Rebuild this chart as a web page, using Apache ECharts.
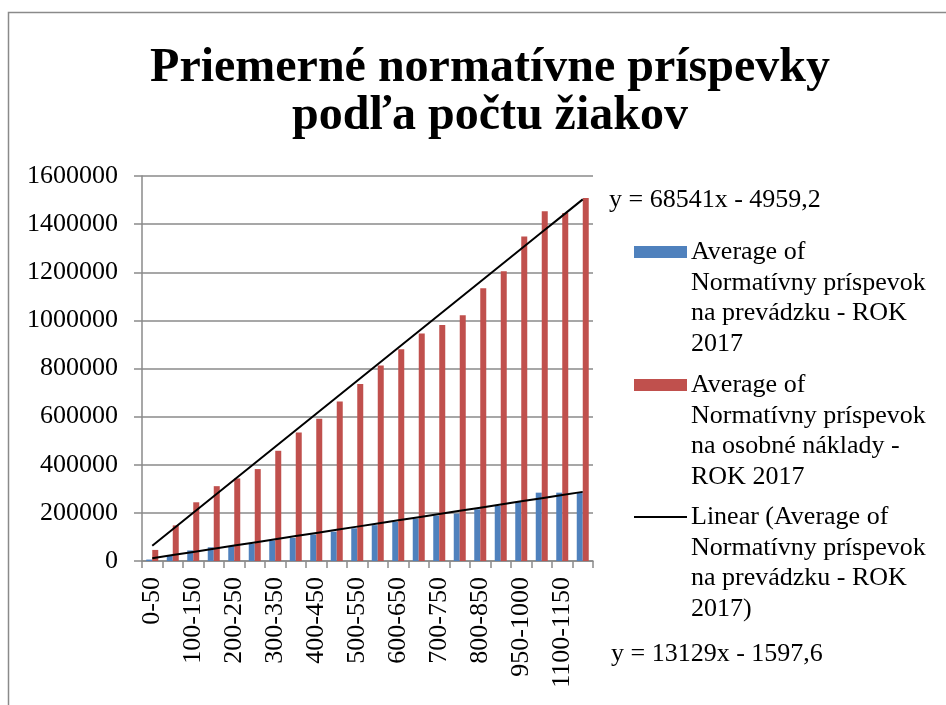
<!DOCTYPE html>
<html lang="sk">
<head>
<meta charset="UTF-8">
<title>Priemerné normatívne príspevky</title>
<script src="https://cdn.jsdelivr.net/npm/echarts@6/dist/echarts.min.js"></script>
<style>
  html, body { margin: 0; padding: 0; background: #fff; }
  #chart { width: 946px; height: 705px; }
</style>
</head>
<body>
<div id="chart"></div>
<script>
// pocet ziakov (kategorie)
var categories = ['0-50', '50-100', '100-150', '150-200', '200-250', '250-300', '300-350', '350-400',
  '400-450', '450-500', '500-550', '550-600', '600-650', '650-700', '700-750', '750-800',
  '800-850', '850-900', '950-1000', '1000-1050', '1100-1150', '1150-1200'];

// Average of Normatívny príspevok na prevádzku - ROK 2017
var prevadzka = [6000, 25000, 44000, 57000, 62000, 71000, 85000, 96000, 110000, 122000, 136000,
  149000, 163000, 176000, 189000, 197000, 215000, 229000, 245000, 284000, 284000, 283000];

// Average of Normatívny príspevok na osobné náklady - ROK 2017
var osobne = [46000, 148000, 244000, 311000, 343000, 382000, 458000, 534000, 591000, 663000, 736000,
  812000, 880000, 945000, 981000, 1021000, 1133000, 1204000, 1349000, 1453000, 1446000, 1509000];

// trendline equations shown in the chart (x = 1..n)
var trendOsobne = [68541, -4959.2];
var trendPrevadzka = [13129, -1597.6];

var legendNames = [
  'Average of\nNormatívny príspevok\nna prevádzku - ROK\n2017',
  'Average of\nNormatívny príspevok\nna osobné náklady -\nROK 2017',
  'Linear (Average of\nNormatívny príspevok\nna prevádzku - ROK\n2017)'
];

function trend(coef) {
  return categories.map(function (c, i) { return coef[0] * (i + 1) + coef[1]; });
}

var serif = '"Liberation Serif", "Times New Roman", serif';
var gray = '#8a8a8a';
var blue = '#4F81BD', red = '#C0504D';

var chart = echarts.init(document.getElementById('chart'));
chart.setOption({
  backgroundColor: '#fff',
  animation: false,
  title: {
    text: 'Priemerné normatívne príspevky\npodľa počtu žiakov',
    left: 485, top: 40, textAlign: 'center',
    textStyle: { fontFamily: serif, fontSize: 48, fontWeight: 'bold', color: '#000', lineHeight: 48 }
  },
  grid: { left: 142, right: 353, top: 176, bottom: 144, containLabel: false },
  xAxis: {
    type: 'category',
    data: categories,
    axisLine: { lineStyle: { color: gray, width: 1.5 } },
    axisTick: { show: true, length: 7, lineStyle: { color: gray, width: 1.5 }, interval: 0 },
    axisLabel: { rotate: 90, interval: 1, margin: 16, fontFamily: serif, fontSize: 26, color: '#000' }
  },
  yAxis: {
    type: 'value',
    min: 0, max: 1600000, interval: 200000,
    axisLine: { show: true, lineStyle: { color: gray, width: 1.5 } },
    axisTick: { show: true, length: 8, lineStyle: { color: gray, width: 1.5 } },
    axisLabel: { margin: 24, fontFamily: serif, fontSize: 26, color: '#000',
      formatter: function (v) { return String(v); } },
    splitLine: { lineStyle: { color: gray, width: 1.5 } }
  },
  series: [
    { name: legendNames[0], type: 'bar', data: prevadzka, barWidth: 6, barGap: '0%',
      itemStyle: { color: blue } },
    { name: legendNames[1], type: 'bar', data: osobne, barWidth: 6, barGap: '0%',
      itemStyle: { color: red } },
    { name: legendNames[2], type: 'line', data: trend(trendPrevadzka), symbol: 'none', z: 5,
      lineStyle: { color: '#000', width: 2 } },
    { name: 'trend osobne', type: 'line', data: trend(trendOsobne), symbol: 'none', z: 5,
      lineStyle: { color: '#000', width: 2 } }
  ],
  graphic: [
    { type: 'rect', shape: { x: 8.5, y: 12.5, width: 1200, height: 1000 },
      style: { fill: null, stroke: '#8a8a8a', lineWidth: 1.5 }, silent: true },
    { type: 'text', left: 609, top: 187,
      style: { text: 'y = 68541x - 4959,2', font: '26px ' + serif, fill: '#000' } },
    { type: 'text', left: 611, top: 641,
      style: { text: 'y = 13129x - 1597,6', font: '26px ' + serif, fill: '#000' } },
    // legenda
    { type: 'rect', shape: { x: 634, y: 246, width: 53, height: 12 }, style: { fill: blue } },
    { type: 'text', left: 691, top: 237,
      style: { text: legendNames[0], font: '26px ' + serif, fill: '#000', lineHeight: 30.5 } },
    { type: 'rect', shape: { x: 634, y: 379, width: 53, height: 12 }, style: { fill: red } },
    { type: 'text', left: 691, top: 370,
      style: { text: legendNames[1], font: '26px ' + serif, fill: '#000', lineHeight: 30.5 } },
    { type: 'line', shape: { x1: 634, y1: 517, x2: 687, y2: 517 }, style: { stroke: '#000', lineWidth: 2 } },
    { type: 'text', left: 691, top: 502,
      style: { text: legendNames[2], font: '26px ' + serif, fill: '#000', lineHeight: 30.5 } }
  ]
});
</script>
</body>
</html>
